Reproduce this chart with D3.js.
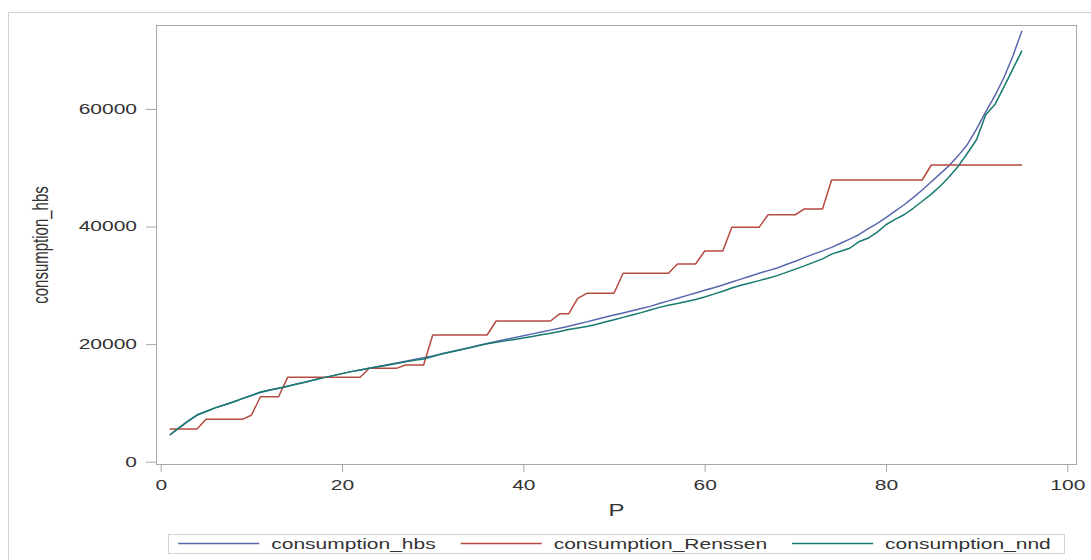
<!DOCTYPE html>
<html>
<head>
<meta charset="utf-8">
<script src="https://cdn.jsdelivr.net/npm/d3@7"></script>
<style>
  html, body { margin: 0; padding: 0; background: #fff; }
  svg { display: block; font-family: Arial, "Liberation Sans", sans-serif; }
</style>
</head>
<body>
<svg id="chart" width="1091" height="560"></svg>
<script>
// ---------------- DATA ----------------
const percentiles = d3.range(1, 96); // P = 1..95

const consumptionHbs = [
  4540, 5700, 6850, 7940, 8550, 9150, 9650, 10150, 10730, 11250,
  11780, 12150, 12480, 12840, 13200, 13560, 13940, 14300, 14640, 14980,
  15320, 15600, 15900, 16200, 16500, 16800, 17100, 17400, 17700, 18000,
  18350, 18700, 19050, 19400, 19750, 20100, 20450, 20780, 21100, 21420,
  21740, 22060, 22380, 22700, 23050, 23420, 23780, 24180, 24560, 24940,
  25300, 25680, 26050, 26420, 26900, 27350, 27800, 28250, 28700, 29150,
  29600, 30050, 30550, 31050, 31550, 32050, 32500, 32950, 33550, 34100,
  34700, 35300, 35850, 36450, 37150, 37850, 38600, 39600, 40500, 41500,
  42600, 43700, 44900, 46200, 47600, 49000, 50400, 52100, 54000, 56600,
  59500, 62200, 65300, 69000, 73300
];

const consumptionRenssen = [
  5560, 5560, 5560, 5560, 7210, 7210, 7210, 7210, 7210, 7900,
  11050, 11050, 11050, 14350, 14350, 14350, 14350, 14350, 14350, 14350,
  14350, 14350, 15880, 15880, 15880, 15880, 16450, 16450, 16450, 21550,
  21550, 21550, 21550, 21550, 21550, 21550, 23930, 23930, 23930, 23930,
  23930, 23930, 23930, 25150, 25150, 27790, 28640, 28640, 28640, 28640,
  32040, 32040, 32040, 32040, 32040, 32040, 33620, 33620, 33620, 35830,
  35830, 35830, 39860, 39860, 39860, 39860, 42000, 42000, 42000, 42000,
  42980, 42980, 42980, 47910, 47910, 47910, 47910, 47910, 47910, 47910,
  47910, 47910, 47910, 47910, 50460, 50460, 50460, 50460, 50460, 50460,
  50460, 50460, 50460, 50460, 50460
];

const consumptionNnd = [
  4540, 5750, 6900, 7940, 8550, 9150, 9650, 10150, 10730, 11250,
  11850, 12200, 12500, 12850, 13200, 13560, 13940, 14300, 14640, 14980,
  15320, 15600, 15880, 16150, 16420, 16700, 16980, 17250, 17480, 17900,
  18300, 18650, 19000, 19350, 19700, 20050, 20300, 20550, 20800, 21050,
  21300, 21580, 21850, 22150, 22500, 22750, 23000, 23350, 23750, 24150,
  24550, 24950, 25350, 25800, 26250, 26600, 26900, 27250, 27600, 28000,
  28500, 29000, 29550, 30000, 30400, 30800, 31200, 31650, 32200, 32750,
  33300, 33900, 34500, 35300, 35800, 36300, 37400, 38000, 39000, 40300,
  41200, 42000, 43100, 44300, 45500, 46900, 48500, 50300, 52500, 54800,
  59000, 60700, 63700, 66800, 69900
];

const seriesNames = ["consumption_hbs", "consumption_Renssen", "consumption_nnd"];
const seriesColors = ["#5867ad", "#b54a40", "#167a6e"];
const xTicks = [0, 20, 40, 60, 80, 100];
const yTicks = [0, 20000, 40000, 60000];
const xLabel = "P";
const yLabel = "consumption_hbs";

// ---------------- LAYOUT ----------------
const svg = d3.select("#chart");
const frame = { left: 156, top: 25, right: 1077, bottom: 465 };
const SX = 1.5; // horizontal glyph stretch seen in the reference

const x = d3.scaleLinear().domain([-0.52, 101.07]).range([frame.left, frame.right]);
const y = d3.scaleLinear().domain([-560, 74270]).range([frame.bottom, frame.top]);

// outer border
svg.append("rect")
  .attr("x", 8.5).attr("y", 12.5).attr("width", 1100).attr("height", 600)
  .attr("fill", "none").attr("stroke", "#d3d3d3").attr("stroke-width", 1);

// plot frame
svg.append("rect")
  .attr("x", frame.left + 0.5).attr("y", frame.top + 0.5)
  .attr("width", frame.right - frame.left - 1).attr("height", frame.bottom - frame.top - 1)
  .attr("fill", "#fff").attr("stroke", "#a4a8ab").attr("stroke-width", 1);

function styleAxis(g) {
  g.select(".domain").remove();
  g.selectAll(".tick line").attr("stroke", "#a4a8ab");
  g.selectAll(".tick text")
    .attr("fill", "#333")
    .style("font-size", "14px")
    .each(function () {
      const t = d3.select(this);
      const ox = +t.attr("x") || 0;
      t.attr("x", ox / SX).attr("transform", `scale(${SX},1)`);
    });
}

// y axis
svg.append("g")
  .attr("transform", `translate(${frame.left},0)`)
  .call(d3.axisLeft(y).tickValues(yTicks).tickFormat(d3.format("d")).tickSize(10).tickPadding(9))
  .call(styleAxis);

// x axis
svg.append("g")
  .attr("transform", `translate(0,${frame.bottom})`)
  .call(d3.axisBottom(x).tickValues(xTicks).tickFormat(d3.format("d")).tickSize(7).tickPadding(8))
  .call(styleAxis);

// axis labels
svg.append("text")
  .attr("transform", `translate(${(frame.left + frame.right) / 2},516) scale(${SX},1)`)
  .attr("text-anchor", "middle")
  .attr("fill", "#333")
  .style("font-size", "16px")
  .text(xLabel);

svg.append("text")
  .attr("transform", `translate(48,${(frame.top + frame.bottom) / 2}) scale(${SX},1) rotate(-90)`)
  .attr("text-anchor", "middle")
  .attr("fill", "#333")
  .style("font-size", "15px")
  .text(yLabel);

// lines
const allSeries = [consumptionHbs, consumptionRenssen, consumptionNnd];
const line = d3.line().x((d, i) => x(percentiles[i])).y(d => y(d));
const plotG = svg.append("g");
allSeries.forEach((vals, k) => {
  plotG.append("path")
    .datum(vals)
    .attr("fill", "none")
    .attr("stroke", seriesColors[k])
    .attr("stroke-width", 1.5)
    .attr("stroke-linejoin", "round")
    .attr("d", line);
});

// legend
const legend = svg.append("g");
const legendBox = legend.append("rect")
  .attr("fill", "#fff").attr("stroke", "#cfd2d4").attr("stroke-width", 1);
const sampleLen = 81, sampleGap = 12, itemGap = 25, padL = 10, padR = 14;
const legendY = 543.5;
const items = seriesNames.map((name, k) => {
  const g = legend.append("g");
  g.append("line").attr("x1", 0).attr("x2", sampleLen).attr("y1", 0).attr("y2", 0)
    .attr("stroke", seriesColors[k]).attr("stroke-width", 1.5);
  const t = g.append("text")
    .attr("transform", `translate(${sampleLen + sampleGap},5) scale(${SX},1)`)
    .attr("fill", "#333").style("font-size", "14px").text(name);
  const w = t.node().getComputedTextLength() * SX;
  return { g, w };
});
let total = padL + padR;
items.forEach((it, i) => { total += sampleLen + sampleGap + it.w + (i < items.length - 1 ? itemGap : 0); });
const lx0 = (frame.left + frame.right) / 2 - total / 2;
let cx = lx0 + padL;
items.forEach(it => {
  it.g.attr("transform", `translate(${cx},${legendY})`);
  cx += sampleLen + sampleGap + it.w + itemGap;
});
legendBox.attr("x", Math.round(lx0) + 0.5).attr("y", 534.5).attr("width", Math.round(total)).attr("height", 19);
</script>
</body>
</html>
